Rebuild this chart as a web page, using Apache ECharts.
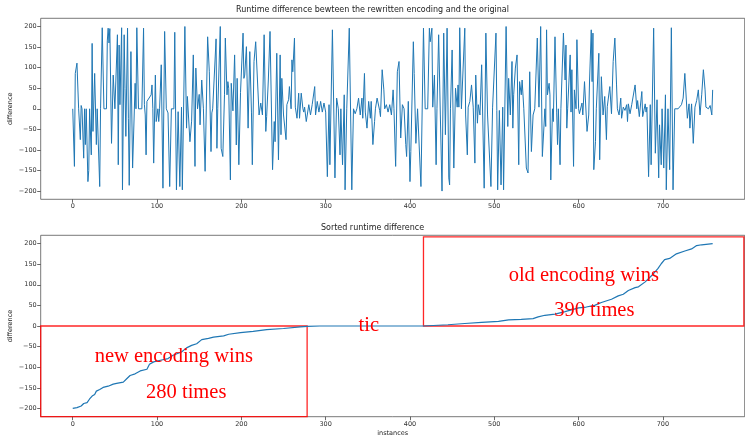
<!DOCTYPE html>
<html>
<head>
<meta charset="utf-8">
<title>Runtime difference</title>
<script src="https://cdn.jsdelivr.net/npm/echarts@6/dist/echarts.min.js"></script>
<style>
html,body{margin:0;padding:0;background:#fff;}
#chart{width:745px;height:437px;}
</style>
</head>
<body>
<div id="chart"></div>
<script>
// [instance, difference]
var runtimeDiff = [
[0,0],[1,0],[2,-140],[3,86],[5,111],[7,0],[9,-75],[10,8],[11,0],[13,-120],[14,0],[15,-87],[16,0],[18,-177],[19,-150],[20,0],
[22,-112],[23,159],[24,-55],[26,86],[28,-87],[29,0],[31,0],[32,-189],[33,0],[35,197],[37,0],[40,0],[41,165],[42,196],[43,160],
[44,195],[46,-84],[48,82],[50,0],[52,0],[53,180],[54,-136],[55,155],[56,10],[58,197],[59,-197],[61,180],[62,50],[63,-67],[65,196],
[66,-23],[67,-186],[69,139],[71,-144],[74,62],[75,0],[76,197],[78,0],[80,4],[82,0],[84,196],[85,10],[86,-15],[87,-112],[88,18],
[90,18],[93,34],[94,58],[95,0],[96,-132],[98,82],[99,-31],[101,0],[102,-31],[103,0],[105,107],[107,-193],
[109,188],[111,0],[113,-10],[115,-189],[117,0],[119,4],[120,0],[121,186],[123,-197],[125,-7],[127,-189],[129,4],[130,-197],
[133,200],[135,-47],[136,30],[139,-80],[141,-30],[143,131],[145,-140],[146,99],[148,0],[150,35],[151,-39],[153,70],[155,0],
[157,-152],[158,-156],[160,175],[162,90],[164,-104],[165,-10],[166,0],[168,0],[170,170],[171,-96],[172,0],[175,200],[176,-96],
[178,-116],[180,34],[181,172],[183,34],[184,66],[185,50],[187,-173],[188,62],[190,-5],[192,131],[194,-88],[195,74],[197,-136],
[199,40],[202,184],[203,74],[204,82],[206,151],[208,-47],[210,139],[212,-10],[213,-136],[215,115],
[217,163],[221,-15],[223,14],[225,-15],[227,180],[229,-55],[230,-19],[232,70],[234,188],[237,-148],[239,-31],[240,-80],[242,135],
[244,-124],[246,131],[247,-63],[248,74],[250,-15],[253,-75],[254,10],[256,22],[257,54],[259,0],[260,119],[261,90],[263,172],
[264,4],[266,-23],[268,38],[269,-23],[271,38],[273,0],[274,-8],[275,4],[277,-31],[280,10],[282,-15],[284,10],[287,54],[288,-15],
[290,18],[292,-8],[294,18],[296,-8],[298,14],[300,-8],[302,-165],[304,10],[305,-136],[308,192],[311,-168],[313,26],[315,0],
[317,-112],[318,0],[320,-136],[322,34],[323,-197],[325,0],[328,196],[331,-197],[333,0],
[335,-12],[337,0],[339,26],[341,-15],[343,26],[344,-23],[346,86],[347,-8],[349,-47],[351,18],[353,-23],[354,18],[356,-87],
[358,-31],[359,0],[361,26],[364,-4],[365,-19],[367,95],[369,46],[370,0],[372,10],[374,-8],[376,10],[378,-15],[380,46],[381,0],
[383,-140],[385,90],[387,115],[389,-71],[391,10],[393,0],[395,-87],[396,-116],[398,18],[400,-177],[401,-104],[404,163],[405,86],
[407,-84],[409,0],[411,0],[413,-189],[416,196],[418,0],[421,0],[423,196],[424,163],[426,196],[427,4],[429,82],[431,-136],[432,0],
[434,180],[436,-15],[438,-200],[440,184],[442,-63],[444,196],[446,-168],
[447,-185],[448,0],[450,143],[452,-144],[454,50],[456,4],[457,58],[458,4],[459,197],[461,0],[463,4],[465,196],[466,-15],[468,-112],
[469,4],[471,18],[473,58],[475,4],[477,-132],[478,82],[480,-35],[481,10],[483,-15],[485,107],[488,-193],[490,184],[492,-15],
[496,-189],[498,4],[500,0],[502,184],[503,-4],[504,-197],[506,-4],[508,-185],[510,4],[511,-197],[514,200],[516,-43],[517,74],
[519,-15],[521,115],[522,-47],[523,34],[525,99],[527,131],[529,-136],[530,66],[532,34],[533,70],[535,0],[538,-144],[540,-156],
[542,90],[544,-104],[546,-15],[548,0],[551,172],[553,4],[555,200],[557,-116],[559,-120],[560,0],[561,-43],[562,192],[563,34],
[565,62],[566,34],[567,-173],[569,0],[570,-31],[572,175],[574,-8],[575,-87],[576,0],[578,-136],[579,0],[580,0],[582,184],[584,70],
[585,155],[586,-47],[587,0],[590,131],[591,-8],[592,95],[594,-140],[595,46],[597,0],[598,168],[600,0],[601,-12],[603,-15],[604,14],
[605,-15],[607,66],[610,-55],[612,-15],[613,70],[615,192],[616,66],[617,184],[618,-148],[620,-80],[621,0],[624,135],[625,-124],
[627,78],[629,-15],[631,30],[633,-75],[634,5],[636,5],[637,54],[639,-12],[641,115],[643,172],[645,58],[646,0],[648,-15],[650,26],
[651,-23],[653,4],[655,-4],[657,10],[658,-31],[659,12],[661,-12],[663,10],[667,58],[669,0],[670,20],[672,-19],[675,42],[676,-19],
[679,12],[680,-8],[681,4],[683,-165],[685,10],[686,-136],[689,196],[691,-108],[693,22],[695,-168],[696,-39],[698,-136],[699,0],
[701,-144],[703,34],[704,-197],[706,0],[708,-148],[710,197],[712,-197],[714,0],[718,0],[720,4],[722,10],[724,26],[726,86],
[729,-23],[731,12],[732,-47],[734,12],[736,-84],[738,4],[740,20],[742,46],[744,-15],[746,34],[748,95],[750,46],[751,4],[754,0],
[756,8],[758,-15],[759,46]
];

// [rank, difference]
var sortedDiff = [
[0,-200],[5,-198],[10,-194],[13,-188],[17,-186],[20,-177],[23,-170],[26,-166],[28,-158],[32,-154],[36,-149],[42,-146],[48,-141],
[52,-139],[60,-136],[64,-128],[68,-120],[74,-116],[80,-109],[88,-105],[91,-93],[96,-87],[104,-83],[113,-79],[119,-71],[129,-63],
[135,-53],[141,-47],[147,-43],[153,-33],[161,-30],[167,-27],[179,-24],[185,-20],[199,-16],[214,-13],[230,-9],[250,-6],[270,-2],
[278,-1],[293,0],[416,0],[445,3],[465,6],[485,9],[505,11],[517,15],[532,16],[546,18],[552,22],[560,26],[572,29],[584,35],
[600,44],[609,46],[619,50],[627,57],[639,65],[647,73],[653,77],[659,86],[667,93],[671,95],[679,107],[687,123],[694,139],
[698,151],[702,161],[708,164],[716,175],[726,182],[734,187],[740,195],[746,197],[759,200]
];

var xTicks = [0, 100, 200, 300, 400, 500, 600, 700];
var yTicks = [-200, -150, -100, -50, 0, 50, 100, 150, 200];

var boxNew = [[-38, -220], [278, 0]];
var boxOld = [[416, 0], [796, 216]];

// text, left x, middle y (data coords of the sorted panel)
var notes = [
    ['new encoding wins', 26, -75],
    ['280 times', 87, -162],
    ['tic', 339, 1],
    ['old encoding wins', 517, 123],
    ['390 times', 571, 37]
];

var chart = echarts.init(document.getElementById('chart'));

function minus(v){ return String(v).replace('-', '\u2212'); }

function xAxisOf(idx, withName){
    var ax = {
        type: 'value', gridIndex: idx, min: -38, max: 797,
        axisLine: {show: false, onZero: false},
        axisTick: {customValues: xTicks, length: 3.5, lineStyle: {color: '#444', width: 0.8}},
        axisLabel: {customValues: xTicks, fontSize: 6.5, color: '#333', margin: 4, fontFamily: 'DejaVu Sans', formatter: minus},
        splitLine: {show: false}
    };
    if (withName) {
        ax.name = 'instances';
        ax.nameLocation = 'middle';
        ax.nameGap = 13;
        ax.nameMoveOverlap = false;
        ax.nameTextStyle = {fontSize: 6.5, color: '#222', fontFamily: 'DejaVu Sans'};
    }
    return ax;
}

function yAxisOf(idx){
    return {
        type: 'value', gridIndex: idx, min: -220, max: 220,
        name: 'difference', nameLocation: 'middle', nameRotate: 90, nameGap: 27, nameMoveOverlap: false,
        nameTextStyle: {fontSize: 6.5, color: '#222', fontFamily: 'DejaVu Sans'},
        axisLine: {show: false, onZero: false},
        axisTick: {customValues: yTicks, length: 3.5, lineStyle: {color: '#444', width: 0.8}},
        axisLabel: {customValues: yTicks, fontSize: 6.5, color: '#333', margin: 4, fontFamily: 'DejaVu Sans', formatter: minus},
        splitLine: {show: false}
    };
}

var gridBase = {left: 40.7, right: 0.3, show: true, borderColor: '#555', borderWidth: 0.8,
    backgroundColor: 'transparent', outerBoundsMode: 'none', containLabel: false};

var option = {
    animation: false,
    backgroundColor: '#fff',
    title: [
        {text: 'Runtime difference bewteen the rewritten encoding and the original', left: 'center', top: 5.5, padding: 0,
         textStyle: {fontSize: 8, fontWeight: 'normal', color: '#222', fontFamily: 'DejaVu Sans'}},
        {text: 'Sorted runtime difference', left: 'center', top: 224, padding: 0,
         textStyle: {fontSize: 8, fontWeight: 'normal', color: '#222', fontFamily: 'DejaVu Sans'}}
    ],
    grid: [
        Object.assign({top: 18.3, height: 181}, gridBase),
        Object.assign({top: 235.3, height: 181.4}, gridBase)
    ],
    xAxis: [xAxisOf(0, false), xAxisOf(1, true)],
    yAxis: [yAxisOf(0), yAxisOf(1)],
    series: [
        {
            type: 'line', xAxisIndex: 0, yAxisIndex: 0, data: runtimeDiff,
            showSymbol: false, lineStyle: {color: '#1f77b4', width: 1}, itemStyle: {color: '#1f77b4'}
        },
        {
            type: 'line', xAxisIndex: 1, yAxisIndex: 1, data: sortedDiff,
            showSymbol: false, lineStyle: {color: '#1f77b4', width: 1.2}, itemStyle: {color: '#1f77b4'},
            markArea: {
                silent: true,
                itemStyle: {color: 'rgba(0,0,0,0)', borderColor: 'rgba(255,0,0,0.85)', borderWidth: 1.3},
                data: [
                    [{coord: boxNew[0]}, {coord: boxNew[1]}],
                    [{coord: boxOld[0]}, {coord: boxOld[1]}]
                ]
            }
        }
    ]
};
chart.setOption(option);

// annotations placed in data coords of the sorted panel
var texts = notes.map(function(n){
    var p = chart.convertToPixel({xAxisIndex: 1, yAxisIndex: 1}, [n[1], n[2]]);
    return {
        type: 'text', x: p[0], y: p[1], z: 100, silent: true,
        style: {text: n[0], fill: '#ff0000', fontSize: 20.5, fontFamily: 'Liberation Serif', align: 'left', verticalAlign: 'middle'}
    };
});
chart.setOption({graphic: texts});
</script>
</body>
</html>
